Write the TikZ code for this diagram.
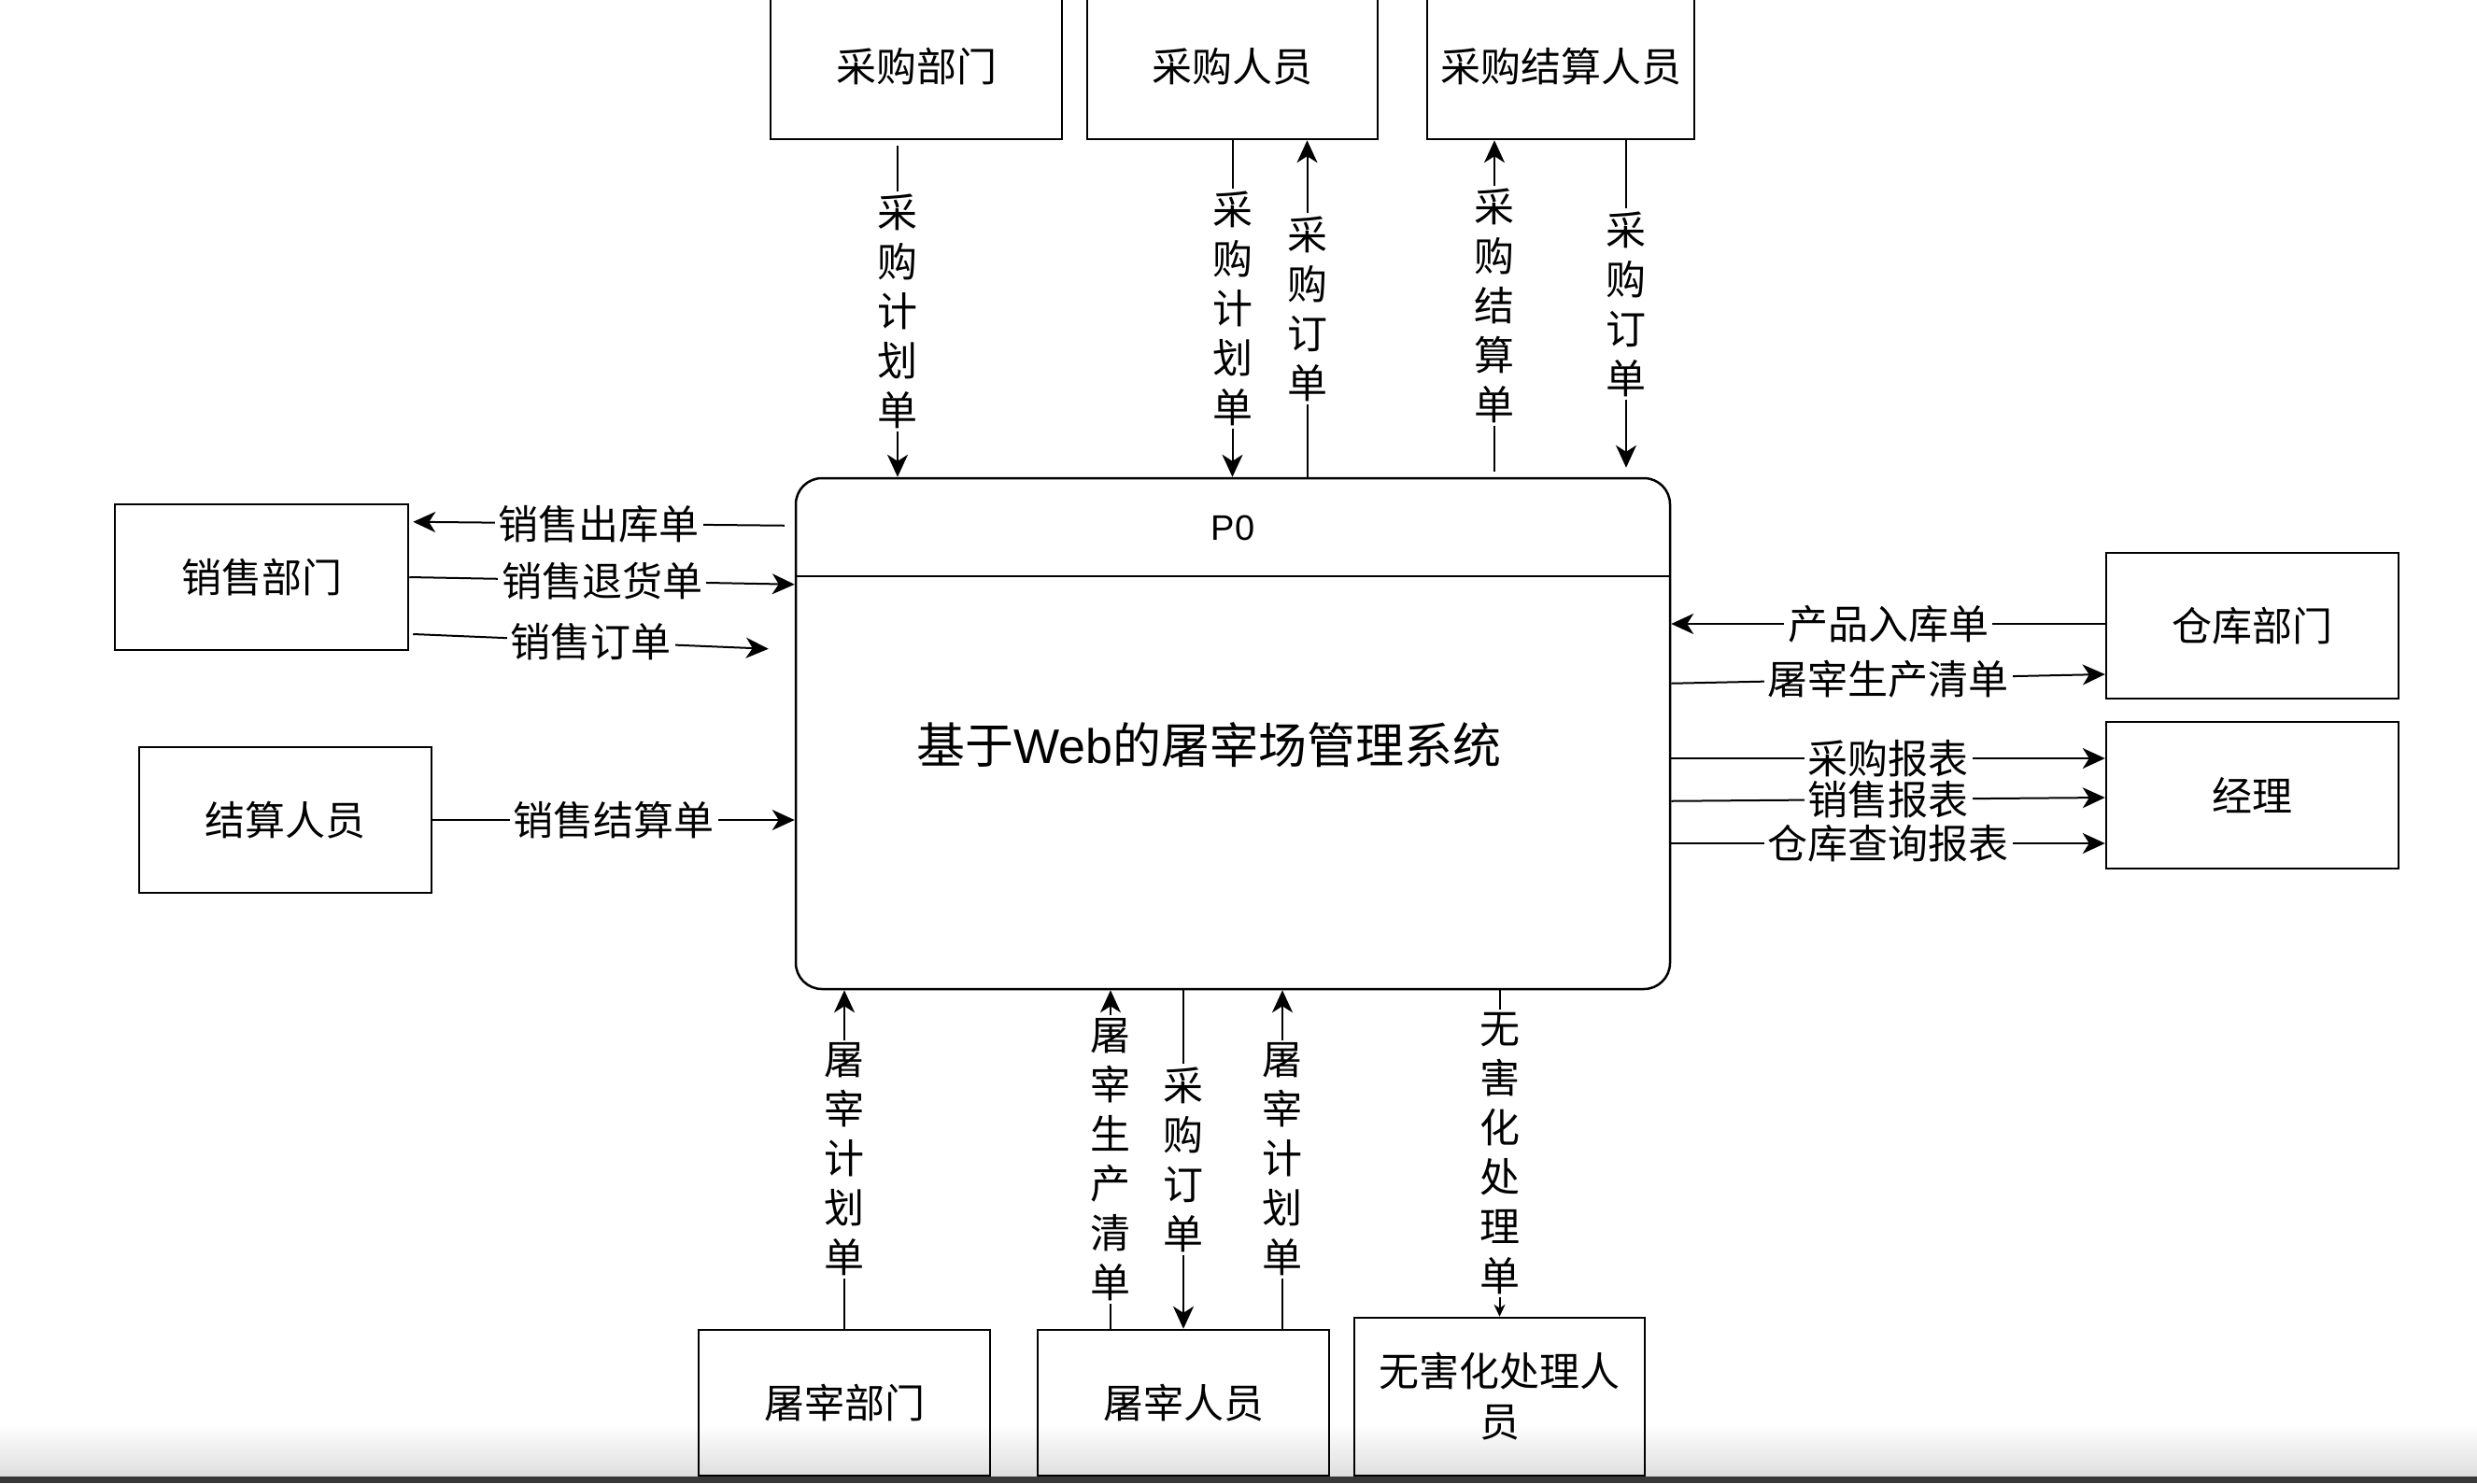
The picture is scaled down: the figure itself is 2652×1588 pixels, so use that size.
\documentclass[tikz,border=0pt]{standalone}
\usepackage{fontspec}
\setmainfont{Noto Sans CJK SC}
\newfontfamily\latinsans{Liberation Sans}
\usetikzlibrary{arrows.meta,calc}
\tikzset{
  ent/.style={draw, line width=2.5pt, minimum width=312pt, minimum height=156pt, inner sep=0pt,
    font=\fontsize{43}{54}\selectfont, align=center},
  flow/.style={line width=2pt, -{Stealth[length=24pt,width=22pt,inset=7pt]}},
  smallflow/.style={line width=2pt, -{Stealth[length=13pt,width=12pt,inset=4pt]}},
  lab/.style={fill=white, inner xsep=4pt, inner ysep=3pt, font=\fontsize{43}{53}\selectfont, align=center},
}
\begin{document}
\begin{tikzpicture}[x=1pt,y=-1pt]
\useasboundingbox (0,0) rectangle (2652,1588);
\fill[white] (0,0) rectangle (2652,1588);
\shade[top color=white, bottom color=black!13] (0,1525) rectangle (2652,1581);
\fill[black!78] (0,1581) rectangle (2652,1588);

% central process
\node[draw, line width=2.5pt, rounded corners=28pt, minimum width=936pt, minimum height=547pt] (p0) at (1320,785.5) {};
\draw[line width=2.5pt] ([yshift=-106pt]p0.north west) -- ([yshift=-106pt]p0.north east);
\node[font=\fontsize{38}{42}\selectfont\latinsans] (p0t) at (1320,565) {P0};
\node[font=\fontsize{52}{58}\selectfont] (title) at (1294,798) {基于{\latinsans Web}的屠宰场管理系统};

% external entities
\node[ent] (cgbm) at (981,71) {采购部门};
\node[ent, minimum width=311pt] (cgry) at (1319.5,71) {采购人员};
\node[ent, minimum width=286pt] (cgjs) at (1671,71) {采购结算人员};
\node[ent, minimum width=314pt] (xsbm) at (280,618) {销售部门};
\node[ent, minimum width=313pt] (jsry) at (305.5,878) {结算人员};
\node[ent, minimum width=313pt] (ckbm) at (2411.5,670) {仓库部门};
\node[ent, minimum width=313pt, minimum height=157pt] (jl) at (2411.5,851.5) {经理};
\node[ent] (tzbm) at (904,1502) {屠宰部门};
\node[ent] (tzry) at (1267,1502) {屠宰人员};
\node[ent, minimum width=311pt, minimum height=169pt] (whh) at (1605.5,1495.5) {无害化处理人\\员};

% top flows
\draw[flow] ([xshift=-20pt,yshift=-6pt]cgbm.south) -- ([xshift=-20pt]cgbm.south |- p0.north)
  node[lab, midway] (l1) {采\\购\\计\\划\\单};
\draw[flow] (cgry.south) -- (cgry.south |- p0.north)
  node[lab, midway] (l2) {采\\购\\计\\划\\单};
\draw[flow] ([xshift=80pt]cgry.south |- p0.north) -- ([xshift=80pt]cgry.south)
  node[lab, midway] (l3) {采\\购\\订\\单};
\draw[flow] ([xshift=-71pt,yshift=6pt]cgjs.south |- p0.north) -- ([xshift=-71pt]cgjs.south)
  node[lab, midway] (l4) {采\\购\\结\\算\\单};
\draw[flow] ([xshift=70pt]cgjs.south) -- ([xshift=70pt,yshift=10pt]cgjs.south |- p0.north)
  node[lab, midway] (l5) {采\\购\\订\\单};

% left flows
\draw[flow] ([xshift=-11pt,yshift=-52pt]p0.north west) -- ([xshift=4pt,yshift=-20pt]xsbm.north east)
  node[lab, midway] (l6) {销售出库单};
\draw[flow] (xsbm.east) -- ([yshift=-115pt]p0.north west)
  node[lab, midway] (l7) {销售退货单};
\draw[flow] ([xshift=4pt,yshift=-61pt]xsbm.east) -- ([xshift=-28pt,yshift=-184pt]p0.north west)
  node[lab, midway] (l8) {销售订单};
\draw[flow] (jsry.east) -- (jsry.east -| p0.west)
  node[lab, midway] (l9) {销售结算单};

% right flows
\draw[flow] ([yshift=2pt]ckbm.west) -- ([yshift=2pt]ckbm.west -| p0.east)
  node[lab, midway] (l10) {产品入库单};
\draw[flow] ([yshift=-221pt]p0.north east) -- ([yshift=-52pt]ckbm.west)
  node[lab, midway] (l11) {屠宰生产清单};
\draw[flow] ([yshift=39.5pt]jl.west -| p0.east) -- ([yshift=39.5pt]jl.west)
  node[lab, midway] (l12) {采购报表};
\draw[flow] ([yshift=-347pt]p0.north east) -- ([yshift=-2.5pt]jl.west)
  node[lab, midway] (l13) {销售报表};
\draw[flow] ([yshift=-51.5pt]jl.west -| p0.east) -- ([yshift=-51.5pt]jl.west)
  node[lab, midway] (l14) {仓库查询报表};

% bottom flows
\draw[flow] (tzbm.north) -- (tzbm.north |- p0.south)
  node[lab, midway] (l15) {屠\\宰\\计\\划\\单};
\draw[flow] ([xshift=-78pt]tzry.north) -- ([xshift=-78pt]tzry.north |- p0.south)
  node[lab, midway] (l16) {屠\\宰\\生\\产\\清\\单};
\draw[flow] (tzry.north |- p0.south) -- (tzry.north)
  node[lab, midway] (l17) {采\\购\\订\\单};
\draw[flow] ([xshift=106pt]tzry.north) -- ([xshift=106pt]tzry.north |- p0.south)
  node[lab, midway] (l18) {屠\\宰\\计\\划\\单};
\draw[smallflow] (whh.north |- p0.south) -- (whh.north)
  node[lab, midway] (l19) {无\\害\\化\\处\\理\\单};
\end{tikzpicture}
\end{document}
